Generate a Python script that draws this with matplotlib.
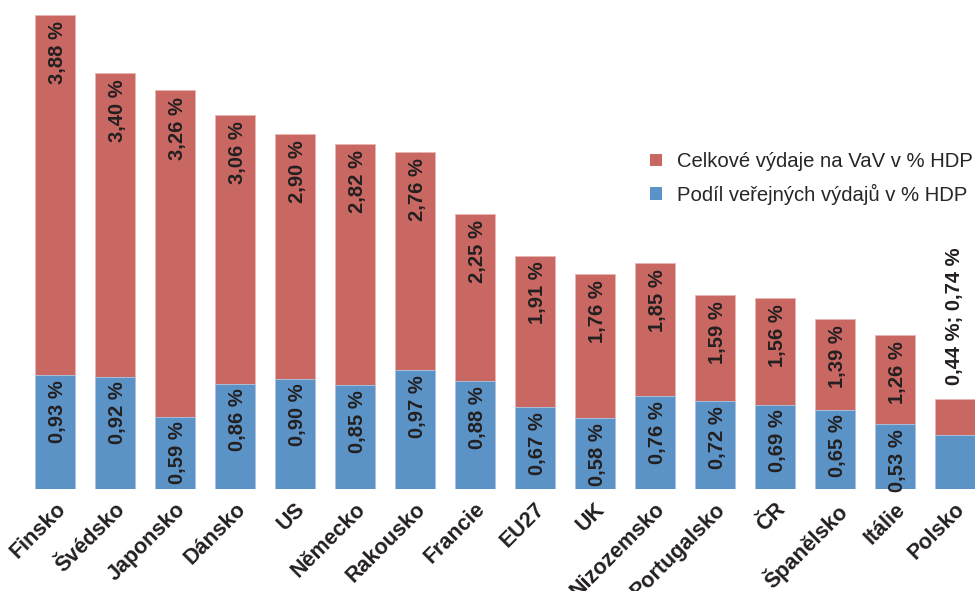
import matplotlib
matplotlib.use("Agg")
import matplotlib.pyplot as plt
from matplotlib.patches import Patch

countries = ["Finsko", "Švédsko", "Japonsko", "Dánsko", "US", "Německo", "Rakousko",
             "Francie", "EU27", "UK", "Nizozemsko", "Portugalsko", "ČR", "Španělsko",
             "Itálie", "Polsko"]
total = [3.88, 3.40, 3.26, 3.06, 2.90, 2.82, 2.76, 2.25, 1.91, 1.76, 1.85, 1.59, 1.56, 1.39, 1.26, 0.74]
public = [0.93, 0.92, 0.59, 0.86, 0.90, 0.85, 0.97, 0.88, 0.67, 0.58, 0.76, 0.72, 0.69, 0.65, 0.53, 0.44]

RED = "#C96862"
BLUE = "#5B93C6"
TXT = "#231F20"
FONT = "Liberation Sans"

def fmt(v):
    return f"{v:.2f}".replace(".", ",") + " %"

fig = plt.figure(figsize=(9.75, 5.91), dpi=100)
ax = fig.add_axes([19/975, (591-489)/591, (975-19)/975, 489/591])
x = list(range(len(countries)))
w = 0.667
ax.bar(x, total, width=w, color=RED, edgecolor="#E8B5B1", linewidth=0.6, zorder=2)
ax.bar(x, public, width=w, color=BLUE, edgecolor="#AFC8E2", linewidth=0.6, zorder=3)
ax.set_xlim(-0.6, 15.34)
ax.set_ylim(0, 4.0)
for s in ax.spines.values():
    s.set_visible(False)
ax.set_yticks([])
ax.set_xticks(x)
ax.set_xticklabels(countries, rotation=45, ha="right", rotation_mode="anchor",
                   fontsize=15.5, fontweight="bold", color=TXT, family=FONT)
ax.tick_params(axis="x", length=0, pad=7)

for i in range(len(countries)):
    if i == len(countries) - 1:
        ax.annotate(fmt(public[i]).replace(" %", " %;") + " " + fmt(total[i]),
                    (x[i], total[i]), xytext=(0, 10), textcoords="offset points",
                    rotation=90, ha="center", va="bottom", fontsize=14.5,
                    fontweight="bold", color=TXT, family=FONT, zorder=5)
        continue
    ax.annotate(fmt(total[i]), (x[i] + 0.04, total[i]), xytext=(0, -4.5), textcoords="offset points",
                rotation=90, ha="center", va="top", fontsize=14.5, fontweight="bold",
                color=TXT, family=FONT, zorder=5)
    ax.annotate(fmt(public[i]), (x[i] + 0.04, public[i]), xytext=(0, -3.5), textcoords="offset points",
                rotation=90, ha="center", va="top", fontsize=14.5, fontweight="bold",
                color=TXT, family=FONT, zorder=5)

handles = [Patch(facecolor=RED, edgecolor="none", label="Celkové výdaje na VaV v % HDP"),
           Patch(facecolor=BLUE, edgecolor="none", label="Podíl veřejných výdajů v % HDP")]
fig.legend(handles=handles, loc="upper left", bbox_to_anchor=(632/975, 1 - 134/591),
           frameon=False, handlelength=0.58, handleheight=0.58, handletextpad=0.72,
           labelspacing=0.62, prop={"family": FONT, "size": 14.6}, labelcolor="#262626")

fig.savefig("out.png", dpi=100)
